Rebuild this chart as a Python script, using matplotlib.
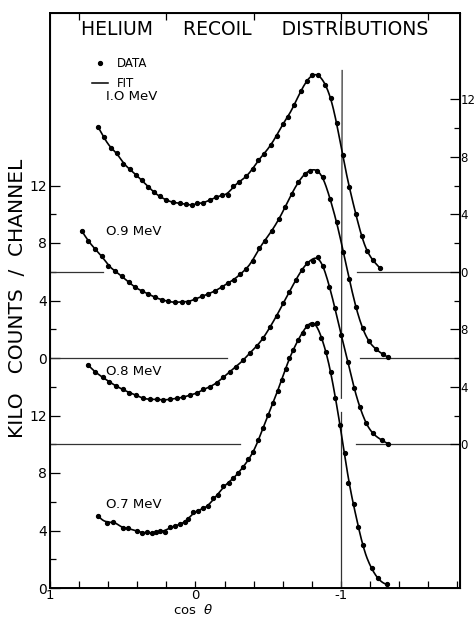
import numpy as np
import matplotlib
matplotlib.use("Agg")
import matplotlib.pyplot as plt

plt.rcParams['font.family'] = ['DejaVu Sans']

# ---- data (cos theta, kilo counts / channel relative to each curve's own baseline) ----
energies = ["1.0 MeV", "0.9 MeV", "0.8 MeV", "0.7 MeV"]
baselines = [22, 16, 10, 0]

cos10 = [0.668, 0.629, 0.583, 0.537, 0.496, 0.450, 0.409, 0.370, 0.324, 0.285, 0.244, 0.203,
         0.153, 0.107, 0.065, 0.026, -0.012, -0.054, -0.100, -0.141, -0.180, -0.221, -0.260,
         -0.301, -0.347, -0.393, -0.432, -0.473, -0.517, -0.558, -0.599, -0.638, -0.679, -0.723,
         -0.764, -0.803, -0.844, -0.890, -0.929, -0.970, -1.011, -1.057, -1.103, -1.142, -1.181,
         -1.222, -1.268]
kc10 = [10.04, 9.37, 8.60, 8.26, 7.51, 7.14, 6.75, 6.35, 5.93, 5.52, 5.24, 5.01,
        4.82, 4.78, 4.71, 4.61, 4.78, 4.78, 5.01, 5.17, 5.36, 5.36, 5.98,
        6.24, 6.63, 7.14, 7.79, 8.21, 8.83, 9.46, 10.30, 10.80, 11.62, 12.54,
        13.24, 13.66, 13.66, 13.01, 12.08, 10.34, 8.09, 5.89, 4.03, 2.46, 1.41,
        0.83, 0.26]

cos09 = [0.782, 0.737, 0.691, 0.645, 0.599, 0.553, 0.507, 0.455, 0.416, 0.370, 0.324, 0.278,
         0.232, 0.187, 0.141, 0.095, 0.049, 0.003, -0.043, -0.088, -0.134, -0.180, -0.221,
         -0.265, -0.306, -0.347, -0.393, -0.436, -0.478, -0.524, -0.574, -0.615, -0.661, -0.707,
         -0.753, -0.787, -0.833, -0.874, -0.924, -0.970, -1.016, -1.057, -1.103, -1.149, -1.190,
         -1.241, -1.287, -1.325]
kc09 = [8.86, 8.16, 7.58, 7.12, 6.42, 6.07, 5.68, 5.26, 4.92, 4.68, 4.45, 4.22,
        4.06, 3.94, 3.87, 3.92, 3.92, 4.10, 4.29, 4.45, 4.68, 4.92, 5.22,
        5.45, 5.84, 6.19, 6.77, 7.63, 8.16, 8.86, 9.67, 10.48, 11.41, 12.22,
        12.80, 13.03, 13.03, 12.57, 11.06, 9.44, 7.39, 5.50, 3.53, 2.07, 1.20,
        0.63, 0.28, 0.05]

cos08 = [0.737, 0.691, 0.638, 0.592, 0.546, 0.500, 0.455, 0.409, 0.363, 0.313, 0.267, 0.221,
         0.175, 0.129, 0.084, 0.038, -0.008, -0.054, -0.100, -0.146, -0.191, -0.237, -0.278,
         -0.329, -0.375, -0.421, -0.466, -0.512, -0.558, -0.603, -0.645, -0.689, -0.730, -0.768,
         -0.810, -0.840, -0.874, -0.920, -0.959, -1.000, -1.050, -1.089, -1.131, -1.172, -1.222,
         -1.280, -1.325]
kc08 = [5.51, 5.05, 4.66, 4.35, 4.05, 3.82, 3.59, 3.43, 3.20, 3.13, 3.13, 3.08,
        3.13, 3.20, 3.27, 3.43, 3.54, 3.82, 4.00, 4.28, 4.66, 5.05, 5.39,
        5.86, 6.37, 6.83, 7.40, 8.15, 8.95, 9.80, 10.60, 11.40, 12.10, 12.61,
        12.78, 13.05, 12.40, 10.96, 9.46, 7.60, 5.74, 3.89, 2.61, 1.46, 0.76,
        0.30, 0.03]

cos07 = [0.668, 0.606, 0.565, 0.500, 0.462, 0.404, 0.370, 0.335, 0.301, 0.274, 0.244, 0.210,
         0.175, 0.141, 0.107, 0.072, 0.049, 0.015, -0.019, -0.054, -0.088, -0.122, -0.157,
         -0.191, -0.230, -0.260, -0.294, -0.329, -0.363, -0.397, -0.432, -0.464, -0.498, -0.533,
         -0.564, -0.592, -0.619, -0.645, -0.672, -0.707, -0.737, -0.764, -0.799, -0.833, -0.860,
         -0.897, -0.929, -0.961, -0.993, -1.027, -1.050, -1.089, -1.119, -1.149, -1.211, -1.256,
         -1.314]
kc07 = [5.03, 4.54, 4.61, 4.19, 4.15, 3.97, 3.85, 3.87, 3.81, 3.87, 3.97, 3.92,
        4.26, 4.31, 4.43, 4.61, 4.80, 5.27, 5.38, 5.54, 5.70, 6.24, 6.47,
        7.10, 7.33, 7.63, 8.02, 8.44, 8.95, 9.44, 10.30, 11.13, 12.03, 12.87,
        13.70, 14.47, 15.23, 15.98, 16.56, 17.25, 17.76, 18.23, 18.37, 18.41, 17.37,
        16.44, 15.05, 13.20, 11.34, 9.41, 7.28, 5.84, 4.26, 2.99, 1.37, 0.67,
        0.26]

cos_series = [cos10, cos09, cos08, cos07]
kc_series = [kc10, kc09, kc08, kc07]

# label positions (cos theta, absolute y)
label_cos = [0.615, 0.615, 0.612, 0.615]
label_y = [34.16, 24.77, 15.03, 5.84]

# baseline gaps: (left segment end, right segment start) in cos theta
baseline_gaps = {22: (0.636, -1.11), 16: (-0.216, -1.13), 10: (-0.306, -1.10)}

# left scale tick labels (value -> label), right scale
left_ticks = [0, 4, 8, 12, 16, 20, 24, 28]
left_labels = ["0", "4", "8", "12", "0", "4", "8", "12"]
left_minor = [2, 6, 10, 14, 18, 22, 26]
right_ticks = [10, 14, 18, 22, 26, 30, 34]
right_labels = ["0", "4", "8", "0", "4", "8", "12"]
right_minor = [12, 16, 20, 24, 28, 32]
x_major = [1, 0, -1]
x_major_labels = ["1", "0", "-1"]


def local_fit(x, y, bw=0.04, n=400):
    x = np.asarray(x, float)
    y = np.asarray(y, float)
    xs = np.linspace(x.max(), x.min(), n)
    ys = np.empty_like(xs)
    for i, x0 in enumerate(xs):
        d = x - x0
        w = np.sqrt(np.exp(-0.5 * (d / bw) ** 2))
        A = np.vstack([np.ones_like(d), d, d ** 2]).T
        coef = np.linalg.lstsq(A * w[:, None], y * w, rcond=None)[0]
        ys[i] = coef[0]
    return xs, ys


fig = plt.figure(figsize=(4.75, 6.17), dpi=100)
ax = fig.add_axes([50 / 475, 1 - 588 / 617, 410 / 475, 575 / 617])
ax.set_xlim(1, -1.818)
ax.set_ylim(0, 40)

for cs, ks, base in zip(cos_series, kc_series, baselines):
    xs, ys = local_fit(cs, ks)
    ys = np.clip(ys, 0, None)
    ax.plot(xs, ys + base, color='black', lw=1.2, zorder=3)
    ax.plot(cs, np.asarray(ks) + base, 'o', color='black', ms=2.8, zorder=4)

for base, (l_end, r_start) in baseline_gaps.items():
    ax.plot([1, l_end], [base, base], color='#333333', lw=0.9)
    ax.plot([r_start, -1.818], [base, base], color='#333333', lw=0.9)

# vertical markers at cos theta = -1
ax.plot([-1.0, -1.0], [0, 12.25], color='#333333', lw=0.9)
ax.plot([-1.008, -1.003], [36.0, 13.2], color='#333333', lw=0.9)

for lab, lx, ly in zip(energies, label_cos, label_y):
    ax.text(lx, ly, lab.replace("1.0", "I.O").replace("0.", "O."), fontsize=9.5,
            ha='left', va='center')

# legend
ax.plot([0.656], [36.52], 'o', color='black', ms=2.8)
ax.text(0.54, 36.52, "DATA", fontsize=8.5, ha='left', va='center')
ax.plot([0.711, 0.601], [35.13, 35.13], color='black', lw=1.1)
ax.text(0.54, 35.13, "FIT", fontsize=8.5, ha='left', va='center')

ax.text(0.5, 0.971, "HELIUM     RECOIL     DISTRIBUTIONS", transform=ax.transAxes,
        fontsize=13.5, ha='center', va='center')

# axes styling
for sp in ax.spines.values():
    sp.set_linewidth(1.2)

ax.set_xticks(x_major)
ax.set_xticklabels(x_major_labels, fontsize=9.5)
ax.set_xticks(np.arange(1, -1.81, -0.2), minor=True)
ax.tick_params(axis='x', which='both', direction='in', top=False, length=5, width=0.9, pad=0.5)
ax.tick_params(axis='x', which='minor', length=5)

ax.set_yticks(left_ticks)
ax.set_yticklabels(left_labels, fontsize=10)
ax.set_yticks(left_minor, minor=True)
ax.tick_params(axis='y', which='major', direction='in', length=7, width=0.9, pad=2)
ax.tick_params(axis='y', which='minor', direction='in', length=4, width=0.9)

axr = ax.twinx()
axr.set_ylim(0, 40)
axr.set_yticks(right_ticks)
axr.set_yticklabels(right_labels, fontsize=8.5)
axr.set_yticks(right_minor, minor=True)
axr.tick_params(axis='y', which='major', direction='in', length=7, width=0.9, pad=0.5)
axr.tick_params(axis='y', which='minor', direction='in', length=4, width=0.9)
for sp in axr.spines.values():
    sp.set_linewidth(1.2)

axt = ax.twiny()
axt.set_xlim(1, -1.818)
axt.set_xticks([0.8, 0.2, -0.4, -1.0, -1.6])
axt.set_xticklabels([])
axt.tick_params(axis='x', direction='in', length=5, width=0.9)

fig.text(193 / 475, 0.5 / 617, r"cos  $\theta$", fontsize=9.5, ha='center', va='bottom')
fig.text(18 / 475, 1 - 298 / 617, "KILO   COUNTS  /  CHANNEL", rotation=90,
         fontsize=14.5, ha='center', va='center')

fig.savefig("out.png", dpi=100)
